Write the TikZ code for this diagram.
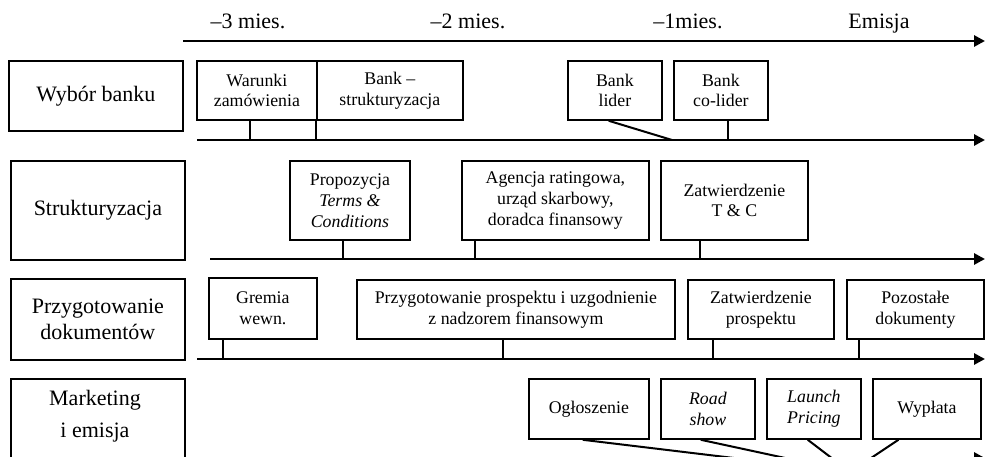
\documentclass[tikz,border=0pt]{standalone}
\usepackage{fontspec}
\setmainfont{Liberation Serif}
\usetikzlibrary{arrows.meta,calc}
\begin{document}
\begin{tikzpicture}[x=1pt,y=-1pt,
  box/.style={draw, line width=1.8pt, inner sep=0pt, align=center,
    font=\fontsize{17.8}{20.8}\selectfont, anchor=north west},
  lbox/.style={box, font=\fontsize{22}{26}\selectfont},
  lbl/.style={inner sep=0pt, align=center, font=\fontsize{22}{26}\selectfont},
  hdr/.style={font=\fontsize{22}{26}\selectfont, anchor=base, inner sep=0pt},
  tline/.style={line width=2.9pt, -{Triangle[length=11pt,width=11pt]}},
  stemline/.style={line width=2pt},
]
\useasboundingbox (0,0) rectangle (985,457);
\clip (0,0) rectangle (985,457);

% headers
\node[hdr] (h3) at (248,29) {–3 mies.};
\node[hdr] (h2) at (468,29) {–2 mies.};
\node[hdr] (h1) at (688,29) {–1mies.};
\node[hdr] (he) at (879,29) {Emisja};

% axes
\coordinate (t0s) at (183,41);  \coordinate (t0e) at (985,41);
\coordinate (t1s) at (197,140); \coordinate (t1e) at (985,140);
\coordinate (t2s) at (210,259); \coordinate (t2e) at (985,259);
\coordinate (t3s) at (197,359); \coordinate (t3e) at (985,359);
\coordinate (t4s) at (197,458); \coordinate (t4e) at (985,458);
\draw[tline] (t0s) -- (t0e);
\draw[tline] (t1s) -- (t1e);
\draw[tline] (t2s) -- (t2e);
\draw[tline] (t3s) -- (t3e);
\draw[tline] (t4s) -- (t4e);

% left column
\node[lbox, minimum width=174, minimum height=70] (wyb) at (8,60) {Wybór banku};
\node[lbox, minimum width=174, minimum height=99] (str) at (10,160) {Strukturyzacja};
\node[lbox, minimum width=174, minimum height=81] (prz) at (10,278) {Przygotowanie\\dokumentów};
\node[lbox, minimum width=174, minimum height=95] (mar) at (10,378) {};
\node[lbl] (marl) at (95,416) {Marketing\\[5.6pt]i emisja};

% row 1
\node[box, minimum width=120, minimum height=59] (war) at (196,60) {Warunki\\zamówienia};
\node[box, minimum width=146, minimum height=59] (bks) at (316,60) {Bank –\\strukturyzacja};
\node[box, minimum width=94, minimum height=59] (bl) at (567,60) {Bank\\lider};
\node[box, minimum width=94, minimum height=59] (bcl) at (673,60) {Bank\\co-lider};

% row 2
\node[box, minimum width=120, minimum height=79] (prop) at (289,160) {Propozycja\\\textit{Terms \&}\\\textit{Conditions}};
\node[box, minimum width=187, minimum height=79] (agen) at (461,160) {Agencja ratingowa,\\urząd skarbowy,\\doradca finansowy};
\node[box, minimum width=147, minimum height=79] (ztc) at (660,160) {Zatwierdzenie\\T \& C};

% row 3
\node[box, minimum width=108, minimum height=61] (grem) at (208,277) {Gremia\\wewn.};
\node[box, minimum width=318, minimum height=59] (pprz) at (356,279) {Przygotowanie prospektu i uzgodnienie\\z nadzorem finansowym};
\node[box, minimum width=146, minimum height=59] (zpro) at (687,279) {Zatwierdzenie\\prospektu};
\node[box, minimum width=137, minimum height=59] (poz) at (846,279) {Pozostałe\\dokumenty};

% row 4
\node[box, minimum width=120, minimum height=60] (ogl) at (528,378) {Ogłoszenie};
\node[box, minimum width=94, minimum height=60] (road) at (660,378) {\textit{Road}\\\textit{show}};
\node[box, minimum width=94, minimum height=60] (laun) at (766,378) {\textit{Launch}\\\textit{Pricing}};
\node[box, minimum width=108, minimum height=60] (wyp) at (872,378) {Wypłata};

% stems row 1
\coordinate (s1) at ($(war.south west)!.442!(war.south east)$);
\draw[stemline] (s1) -- (s1 |- t1s);
\draw[line width=1.2pt] (bks.south west) -- (bks.south west |- t1s);
\coordinate (bld) at (672,140);
\draw[stemline] ($(bl.south west)!.436!(bl.south east)$) -- (bld);
\coordinate (s2) at ($(bcl.south west)!.574!(bcl.south east)$);
\draw[stemline] (s2) -- (s2 |- t1s);

% stems row 2
\coordinate (s3) at ($(prop.south west)!.442!(prop.south east)$);
\draw[stemline] (s3) -- (s3 |- t2s);
\coordinate (s4) at ($(agen.south west)!.075!(agen.south east)$);
\draw[stemline] (s4) -- (s4 |- t2s);
\coordinate (s5) at ($(ztc.south west)!.272!(ztc.south east)$);
\draw[stemline] (s5) -- (s5 |- t2s);

% stems row 3
\coordinate (s6) at ($(grem.south west)!.139!(grem.south east)$);
\draw[stemline] (s6) -- (s6 |- t3s);
\coordinate (s7) at ($(pprz.south west)!.459!(pprz.south east)$);
\draw[stemline] (s7) -- (s7 |- t3s);
\coordinate (s8) at ($(zpro.south west)!.178!(zpro.south east)$);
\draw[stemline] (s8) -- (s8 |- t3s);
\coordinate (s9) at ($(poz.south west)!.095!(poz.south east)$);
\draw[stemline] (s9) -- (s9 |- t3s);

% row 4 connectors
\coordinate (conv) at (850,472);
\draw[stemline] ($(ogl.south west)!.45!(ogl.south east)$) -- (conv);
\draw[stemline] ($(road.south west)!.426!(road.south east)$) -- (conv);
\draw[stemline] ($(laun.south west)!.436!(laun.south east)$) -- (conv);
\draw[stemline] ($(wyp.south west)!.241!(wyp.south east)$) -- (conv);
\end{tikzpicture}
\end{document}
